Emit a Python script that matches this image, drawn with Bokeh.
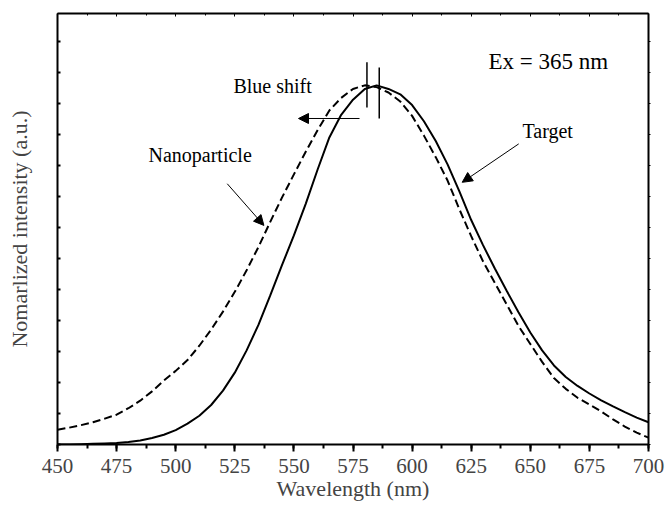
from bokeh.plotting import figure
from bokeh.models import (Range1d, LinearAxis, SingleIntervalTicker, FixedTicker,
                          Arrow, NormalHead, Label)
from bokeh.embed import file_html
from bokeh.resources import INLINE

# ---- data ----
wavelength = [450, 455, 460, 465, 470, 475, 480, 485, 490, 495, 500, 505, 510, 515, 520,
              525, 530, 535, 540, 545, 550, 555, 560, 565, 570, 575, 580, 585, 590, 595,
              600, 605, 610, 615, 620, 625, 630, 635, 640, 645, 650, 655, 660, 665, 670,
              675, 680, 685, 690, 695, 700]
target = [0.000, 0.000, 0.001, 0.002, 0.003, 0.004, 0.007, 0.011, 0.018, 0.027, 0.040,
          0.058, 0.080, 0.110, 0.150, 0.200, 0.262, 0.333, 0.415, 0.500, 0.582, 0.670,
          0.765, 0.855, 0.918, 0.960, 0.990, 1.000, 0.990, 0.975, 0.945, 0.900, 0.845,
          0.780, 0.705, 0.625, 0.555, 0.490, 0.428, 0.368, 0.312, 0.262, 0.220, 0.188,
          0.163, 0.142, 0.123, 0.106, 0.090, 0.075, 0.062]
nanoparticle = [0.041, 0.047, 0.054, 0.062, 0.072, 0.083, 0.101, 0.122, 0.148, 0.178, 0.205,
                0.235, 0.275, 0.320, 0.370, 0.425, 0.485, 0.550, 0.620, 0.688, 0.752, 0.815,
                0.875, 0.930, 0.965, 0.990, 1.000, 0.995, 0.980, 0.955, 0.915, 0.860, 0.800,
                0.735, 0.655, 0.580, 0.510, 0.450, 0.390, 0.330, 0.280, 0.230, 0.185, 0.155,
                0.130, 0.111, 0.092, 0.070, 0.050, 0.033, 0.019]
peak_target = 586.1
peak_nano = 580.9
x_ticks = [450, 475, 500, 525, 550, 575, 600, 625, 650, 675, 700]

FONT = "Liberation Serif"

p = figure(width=668, height=516, output_backend="svg", toolbar_location=None,
           x_range=Range1d(450, 700), y_range=Range1d(0, 1.2),
           min_border_left=57, min_border_right=20, min_border_top=13, min_border_bottom=72,
           x_axis_label="Wavelength (nm)", y_axis_label="Nomarlized intensity (a.u.)")
p.outline_line_color = None
p.grid.visible = False
p.background_fill_color = "white"

# bottom axis
xa = p.xaxis[0]
xa.ticker = SingleIntervalTicker(interval=25, num_minor_ticks=2)
xa.axis_line_width = 2
xa.major_tick_line_width = 2
xa.minor_tick_line_width = 2
xa.major_tick_out = 7
xa.major_tick_in = 0
xa.minor_tick_out = 4
xa.minor_tick_in = 0
xa.major_label_text_font = FONT
xa.major_label_text_font_size = "21px"
xa.major_label_standoff = 7
xa.axis_label_text_font = FONT
xa.axis_label_text_font_size = "22px"
xa.axis_label_text_font_style = "normal"
xa.axis_label_standoff = 0

# left axis
step = 1.2 / 13.9
yt = [i * step for i in range(14)]
ya = p.yaxis[0]
ya.ticker = FixedTicker(ticks=yt, minor_ticks=[])
ya.major_label_overrides = {t: "" for t in yt}
ya.axis_line_width = 2
ya.major_tick_line_width = 2
ya.major_tick_in = 3
ya.major_tick_out = 0
ya.major_label_standoff = 0
ya.axis_label_text_font = FONT
ya.axis_label_text_font_size = "22px"
ya.axis_label_text_font_style = "normal"
ya.axis_label_standoff = 26

# top axis
ta = LinearAxis(ticker=SingleIntervalTicker(interval=25, num_minor_ticks=2))
ta.major_label_overrides = {t: "" for t in x_ticks}
ta.axis_line_width = 2
ta.major_tick_in = 3
ta.major_tick_out = 0
ta.minor_tick_in = 2
ta.minor_tick_out = 0
ta.major_label_standoff = 0
p.add_layout(ta, "above")

# right axis
ra = LinearAxis(ticker=FixedTicker(ticks=yt, minor_ticks=[]))
ra.major_label_overrides = {t: "" for t in yt}
ra.axis_line_width = 2
ra.major_tick_in = 0
ra.major_tick_out = 2
ra.major_label_standoff = 0
p.add_layout(ra, "right")

# curves
p.line(wavelength, target, line_color="black", line_width=2)
p.line(wavelength, nanoparticle, line_color="black", line_width=2, line_dash="8 4")

# peak markers
p.segment(x0=[peak_nano, peak_target], y0=[0.938, 0.908],
          x1=[peak_nano, peak_target], y1=[1.064, 1.050],
          line_color="black", line_width=1.5)

# arrows
def arrow(xs, ys, xe, ye):
    p.add_layout(Arrow(end=NormalHead(size=10, fill_color="black", line_color="black", line_width=1),
                       x_start=xs, y_start=ys, x_end=xe, y_end=ye,
                       line_color="black", line_width=1))

arrow(577.75, 0.9077, 551.95, 0.9077)
arrow(645.1, 0.837, 621.2, 0.730)
arrow(521.8, 0.726, 537.3, 0.610)

def label(x, y, t, size):
    p.add_layout(Label(x=x, y=y, text=t, text_font=FONT, text_font_size=size,
                       text_baseline="alphabetic", text_color="black"))

label(632.3, 1.067, "Ex = 365 nm", "23px")
label(646.7, 0.874, "Target", "20px")
label(488.5, 0.805, "Nanoparticle", "20px")
label(524.4, 0.9995, "Blue shift", "20px")

open("out.html", "w").write(file_html(p, INLINE))
